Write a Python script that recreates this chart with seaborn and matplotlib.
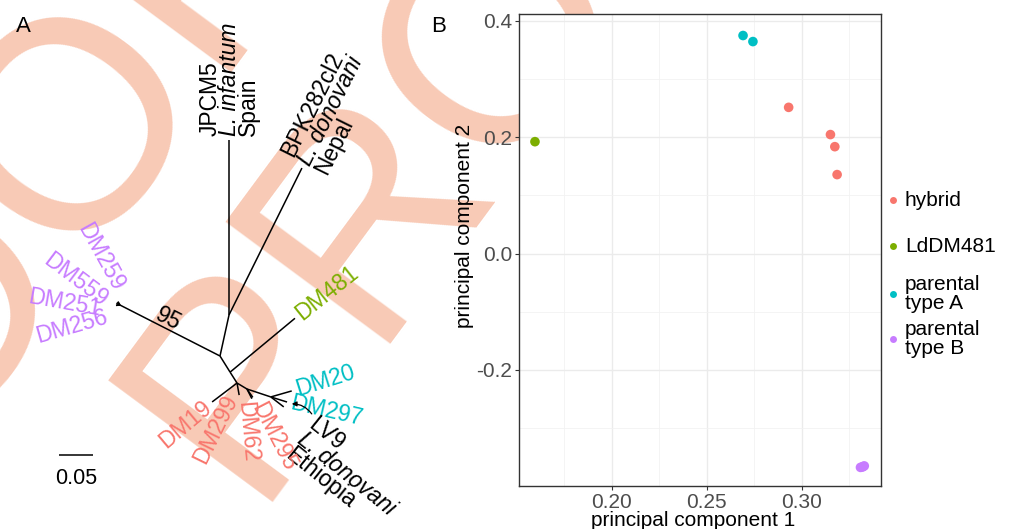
import numpy as np
import pandas as pd
import matplotlib
matplotlib.use("Agg")
import matplotlib.pyplot as plt
import matplotlib.transforms as mtransforms
from matplotlib.lines import Line2D
import seaborn as sns

plt.rcParams["font.family"] = ["Liberation Sans", "DejaVu Sans"]

# ---------------------------------------------------------------- PCA data
pca_group = ["hybrid"] * 4 + ["LdDM481"] + ["parental\ntype A"] * 2 + ["parental\ntype B"] * 4
pc1 = [0.2930, 0.3150, 0.3173, 0.3185, 0.1595, 0.2690, 0.2742, 0.3308, 0.3318, 0.3328, 0.3322]
pc2 = [0.2515, 0.2047, 0.1839, 0.1359, 0.1925, 0.3750, 0.3646, -0.3675, -0.3668, -0.3650, -0.3660]
group_order = ["hybrid", "LdDM481", "parental\ntype A", "parental\ntype B"]
group_colors = ["#F8766D", "#7CAE00", "#00BFC4", "#C77CFF"]
x_ticks = [0.20, 0.25, 0.30]
y_ticks = [-0.2, 0.0, 0.2, 0.4]
x_tick_labels = ["0.20", "0.25", "0.30"]
y_tick_labels = ["-0.2", "0.0", "0.2", "0.4"]

# ---------------------------------------------------------------- tree data
# unrooted tree: each branch goes parent -> child with a length (subst./site)
branch_parent = ["N1", "G", "G", "G", "G", "N1", "N2", "N2", "N1", "N3", "N3",
                 "N4", "N4", "N4", "N6", "N6", "N6", "N5", "N5", "N5"]
branch_child = ["G", "DM259", "DM559", "DM251", "DM256", "N2", "JPCM5", "BPK282cl2", "N3", "DM481", "N4",
                "DM19", "DM299", "N6", "DM62", "DM295", "N5", "DM20", "DM297", "LV9"]
branch_length = [0.165, 0.006, 0.006, 0.006, 0.006, 0.062, 0.257, 0.241, 0.028, 0.124, 0.019,
                 0.046, 0.018, 0.017, 0.016, 0.015, 0.037, 0.032, 0.025, 0.024]
bootstrap_branch = "G"
bootstrap_value = "95"
scale_bar_length = 0.05

tip_color = {
    "DM259": "#C77CFF", "DM559": "#C77CFF", "DM251": "#C77CFF", "DM256": "#C77CFF",
    "DM481": "#7CAE00", "DM20": "#00BFC4", "DM297": "#00BFC4",
    "DM19": "#F8766D", "DM299": "#F8766D", "DM62": "#F8766D", "DM295": "#F8766D",
    "JPCM5": "black", "BPK282cl2": "black", "LV9": "black",
}
tip_lines = {
    "JPCM5": [("JPCM5", "normal"), ("L. infantum", "italic"), ("Spain", "normal")],
    "BPK282cl2": [("BPK282cl2", "normal"), ("L. donovani", "italic"), ("Nepal", "normal")],
    "LV9": [("LV9", "normal"), ("L. donovani", "italic"), ("Ethiopia", "normal")],
}

# ---------------------------------------------------------------- layout
W, H, DPI = 1010, 529, 100
PXU = 680.0                      # pixels per substitution/site unit
ROOT_PX = (220, 356)
WATERMARK = "#F8CAB6"
# drawing direction of every branch (degrees, counter-clockwise)
branch_angle = [153, 120, 140, 160, 185, 77.6, 90, 63.6, -58, 39.7, -57.5,
                217.2, -80, -31, -63, -55, -18.4, 16, -17.4, -37.6]
# label placement: rotation, alignment, offset from tip in pixels (dx, dy downwards)
label_layout = {
    "JPCM5": (90, "left", (0, -4)),
    "BPK282cl2": (63.6, "left", (2, -4)),
    "DM481": (38.5, "left", (3, -2.5)),
    "DM20": (17.4, "left", (4, -1.2)),
    "DM297": (-13, "left", (4, 1)),
    "LV9": (-38.7, "left", (16, 30)),
    "DM19": (40, "right", (-3, 2.5)),
    "DM299": (63.8, "right", (-7, 1)),
    "DM62": (-85, "left", (-7, 3)),
    "DM295": (-62.7, "left", (4, 6.5)),
    "DM259": (-61, "right", (1, -12)),
    "DM559": (-37, "right", (-12, 0)),
    "DM251": (-10, "right", (-15, 6)),
    "DM256": (16, "right", (-9, 11)),
}
LABEL_SIZE = 16.5
LINE_GAP = 19

fig = plt.figure(figsize=(W / DPI, H / DPI), dpi=DPI)
fig.patch.set_facecolor("white")


def fx(px):
    return px / W


def fy(py):
    return 1 - py / H


# background watermark lettering (two diagonal rows)
for ox, oy in [(249.2, 502.1), (-312.9, 775.4)]:
    fig.text(fx(ox), fy(oy), "PROOF", rotation=53.5, rotation_mode="anchor",
             ha="left", va="baseline", fontsize=214, color=WATERMARK,
             fontfamily="Liberation Sans", zorder=-5)

# ---------------------------------------------------------------- panel A
axA = fig.add_axes([0, 0, 0.505, 1])
axA.set_xlim(0, 0.505 * W / PXU)
axA.set_ylim(0, H / PXU)
axA.axis("off")
axA.patch.set_alpha(0)

pos = {"N1": (ROOT_PX[0] / PXU, (H - ROOT_PX[1]) / PXU)}
for p, c, L, a in zip(branch_parent, branch_child, branch_length, branch_angle):
    x0, y0 = pos[p]
    x1 = x0 + L * np.cos(np.radians(a))
    y1 = y0 + L * np.sin(np.radians(a))
    pos[c] = (x1, y1)
    axA.plot([x0, x1], [y0, y1], color="black", lw=1.1, solid_capstyle="butt")


def px_offset(dx, dy):
    return mtransforms.offset_copy(axA.transData, fig=fig, x=dx, y=-dy, units="dots")


for tip, (rot, ha, (dx, dy)) in label_layout.items():
    lines = tip_lines.get(tip, [(tip, "normal")])
    n = len(lines)
    down = (np.sin(np.radians(rot)), np.cos(np.radians(rot)))
    for k, (txt, style) in enumerate(lines):
        shift = (k - (n - 1) / 2) * LINE_GAP
        tr = px_offset(dx + shift * down[0], dy + shift * down[1])
        axA.text(*pos[tip], txt, transform=tr, rotation=rot, rotation_mode="anchor",
                 ha=ha, va="center", fontsize=LABEL_SIZE, style=style,
                 color=tip_color[tip])

# bootstrap support on the long branch
bx = (pos["N1"][0] + pos[bootstrap_branch][0]) / 2
by = (pos["N1"][1] + pos[bootstrap_branch][1]) / 2
axA.text(bx, by, bootstrap_value, transform=px_offset(-2, -12), rotation=-27,
         rotation_mode="anchor", ha="center", va="center", fontsize=LABEL_SIZE)

# arrow pointing at the LV9 tip
tx, ty = pos["LV9"]
axA.annotate("", xy=(tx + 8 / PXU, ty + 3 / PXU), xytext=(tx + 28 / PXU, ty - 7 / PXU),
             arrowprops=dict(arrowstyle="-|>", color="black", lw=0.9,
                             mutation_scale=7, shrinkA=0, shrinkB=0,
                             connectionstyle="arc3,rad=0.25"))

# scale bar
sx, sy = 59 / PXU, (H - 455) / PXU
axA.plot([sx, sx + scale_bar_length], [sy, sy], color="black", lw=1.1, solid_capstyle="butt")
axA.text(sx + scale_bar_length / 2, sy, f"{scale_bar_length:.2f}", transform=px_offset(0, 23),
         ha="center", va="center", fontsize=15.5)

fig.text(fx(23), fy(27), "A", ha="center", va="center", fontsize=16)
fig.text(fx(439), fy(27), "B", ha="center", va="center", fontsize=16)

# ---------------------------------------------------------------- panel B
axB = fig.add_axes([fx(519), fy(486), 362 / W, 472 / H])
axB.set_facecolor("white")
df = pd.DataFrame({"pc1": pc1, "pc2": pc2, "group": pca_group})
sns.scatterplot(data=df, x="pc1", y="pc2", hue="group", hue_order=group_order,
                palette=group_colors, s=48, edgecolor="none", linewidth=0,
                legend=False, ax=axB, zorder=3)
axB.set_xlim(0.1511, 0.3416)
axB.set_ylim(-0.3995, 0.412)
axB.set_xticks(x_ticks)
axB.set_xticklabels(x_tick_labels)
axB.set_yticks(y_ticks)
axB.set_yticklabels(y_tick_labels)
axB.set_xticks([0.175, 0.225, 0.275, 0.325], minor=True)
axB.set_yticks([-0.3, -0.1, 0.1, 0.3], minor=True)
axB.grid(which="major", color="#EBEBEB", lw=1.0, zorder=0)
axB.grid(which="minor", color="#F2F2F2", lw=0.6, zorder=0)
axB.set_axisbelow(True)
axB.tick_params(which="major", length=3, width=0.8, color="#333333",
                labelcolor="#4D4D4D", labelsize=15, pad=2)
axB.tick_params(which="minor", length=0)
for sp in axB.spines.values():
    sp.set_color("#333333")
    sp.set_linewidth(1.0)
axB.set_xlabel("")
axB.set_ylabel("")
fig.text(fx(693), fy(520), "principal component 1", ha="center", va="center", fontsize=15)
fig.text(fx(465), fy(226), "principal component 2", ha="center", va="center",
         rotation=90, fontsize=15)

# legend
legend_y = [200, 246, 294, 339]
for lab, col, ly in zip(group_order, group_colors, legend_y):
    fig.add_artist(Line2D([fx(893)], [fy(ly)], marker="o", markersize=5, color=col,
                          markeredgewidth=0, linestyle="none", transform=fig.transFigure))
    fig.text(fx(905), fy(ly), lab, ha="left", va="center", fontsize=15, linespacing=0.95)

fig.savefig("out.png", dpi=DPI)
